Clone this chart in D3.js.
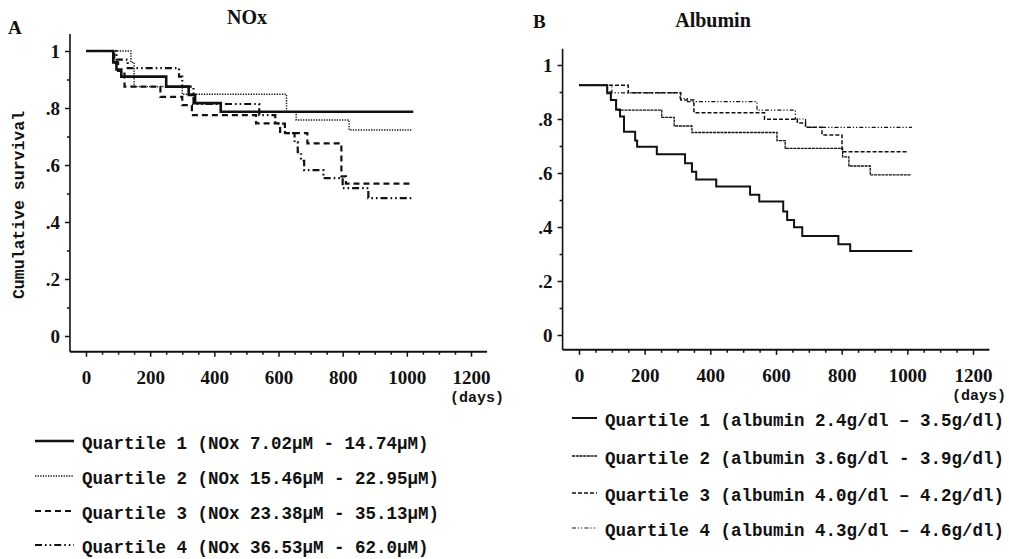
<!DOCTYPE html>
<html>
<head>
<meta charset="utf-8">
<script src="https://cdn.jsdelivr.net/npm/d3@7"></script>
<style>
  body { margin: 0; background: #fff; }
  svg text { fill: #111; }
</style>
</head>
<body>
<svg id="chart" width="1009" height="559"></svg>
<script>
// survival steps: [day, cumulative survival]
const noxQ1 = [[0,1],[85,0.96],[95,0.935],[110,0.91],[250,0.875],[320,0.846],[340,0.817],[420,0.787]];
const noxQ2 = [[0,1],[140,0.96],[150,0.875],[300,0.848],[625,0.787],[655,0.758],[820,0.723]];
const noxQ3 = [[0,1],[88,0.96],[100,0.93],[120,0.875],[232,0.839],[300,0.81],[330,0.775],[530,0.746],[605,0.712],[690,0.676],[796,0.56],[810,0.535]];
const noxQ4 = [[0,1],[95,0.97],[130,0.94],[290,0.91],[300,0.875],[335,0.814],[540,0.775],[590,0.745],[620,0.712],[650,0.68],[660,0.645],[670,0.615],[680,0.582],[740,0.554],[800,0.519],[880,0.484]];
const noxEnd = [1020, 1015, 1012, 1020];

const albQ1 = [[0,0.925],[86,0.895],[97,0.87],[113,0.835],[125,0.809],[137,0.753],[171,0.72],[177,0.697],[237,0.669],[323,0.636],[344,0.605],[357,0.576],[418,0.55],[521,0.519],[549,0.494],[622,0.457],[634,0.426],[655,0.399],[680,0.367],[790,0.336],[826,0.311]];
const albQ2 = [[0,0.925],[86,0.9],[97,0.87],[113,0.833],[252,0.806],[290,0.774],[344,0.75],[603,0.72],[628,0.691],[803,0.66],[822,0.626],[887,0.593]];
const albQ3 = [[0,0.925],[150,0.897],[310,0.87],[350,0.823],[565,0.799],[665,0.785],[690,0.769],[740,0.741],[801,0.679]];
const albQ4 = [[0,0.925],[100,0.897],[308,0.876],[330,0.864],[542,0.833],[659,0.8],[690,0.769]];
const albEnd = [1015, 1012, 1000, 1014];

const xTicks = [0, 200, 400, 600, 800, 1000, 1200];
const yTicks = [0, 0.2, 0.4, 0.6, 0.8, 1];
const yTickLabels = ["0", ".2", ".4", ".6", ".8", "1"];

const noxLegend = [
  "Quartile 1 (NOx 7.02\u03bcM - 14.74\u03bcM)",
  "Quartile 2 (NOx 15.46\u03bcM - 22.95\u03bcM)",
  "Quartile 3 (NOx 23.38\u03bcM - 35.13\u03bcM)",
  "Quartile 4 (NOx 36.53\u03bcM - 62.0\u03bcM)"
];
const albLegend = [
  "Quartile 1 (albumin 2.4g/dl \u2013 3.5g/dl)",
  "Quartile 2 (albumin 3.6g/dl - 3.9g/dl)",
  "Quartile 3 (albumin 4.0g/dl \u2013 4.2g/dl)",
  "Quartile 4 (albumin 4.3g/dl \u2013 4.6g/dl)"
];

// line styles per quartile
const noxStyles = [
  {w: 2.6, dash: null},
  {w: 1.4, dash: "1.3,1.3"},
  {w: 2.2, dash: "6,4"},
  {w: 2.2, dash: "7,3,1.6,3,1.6,3"}
];
const albStyles = [
  {w: 2.0, dash: null},
  {w: 1.3, dash: "3,0.7"},
  {w: 1.5, dash: "4,2"},
  {w: 1.2, dash: "4,2,1.2,2,1.2,2"}
];

const svg = d3.select("#chart");
const monoFont = "'Liberation Mono', 'DejaVu Sans Mono', monospace";
const serifFont = "'Liberation Serif', 'DejaVu Serif', serif";

function drawPanel(p) {
  const g = svg.append("g");
  const x = d3.scaleLinear().domain([0, 1200]).range(p.xRange);
  const y = d3.scaleLinear().domain([0, 1]).range(p.yRange);

  // axis lines
  g.append("line")
    .attr("x1", x(-50)).attr("x2", x(-50))
    .attr("y1", y(1.06)).attr("y2", y(-0.055))
    .attr("stroke", "#111").attr("stroke-width", 1.6);
  g.append("line")
    .attr("x1", x(-50)).attr("x2", x(1250))
    .attr("y1", y(-0.055)).attr("y2", y(-0.055))
    .attr("stroke", "#111").attr("stroke-width", 2);

  // y ticks
  const ya = g.append("g")
    .attr("transform", `translate(${x(-50)},0)`)
    .call(d3.axisLeft(y).tickValues(yTicks).tickSize(5).tickPadding(5)
      .tickFormat((d, i) => yTickLabels[i]));
  const ym = g.append("g")
    .attr("transform", `translate(${x(-50)},0)`)
    .call(d3.axisLeft(y).tickValues([0.1, 0.3, 0.5, 0.7, 0.9]).tickSize(3).tickFormat(""));

  // x ticks
  const xa = g.append("g")
    .attr("transform", `translate(0,${y(-0.055)})`)
    .call(d3.axisBottom(x).tickValues(xTicks).tickSize(5).tickPadding(14)
      .tickFormat(d3.format("d")));
  const xm = g.append("g")
    .attr("transform", `translate(0,${y(-0.055)})`)
    .call(d3.axisBottom(x).tickValues(d3.range(50, 1250, 50).filter(d => d % 200 !== 0))
      .tickSize(3).tickFormat(""));

  [ya, ym, xa, xm].forEach(a => {
    a.select(".domain").remove();
    a.selectAll("line").attr("stroke", "#111").attr("stroke-width", 1.5);
    a.selectAll("text")
      .attr("font-family", serifFont)
      .attr("font-size", 19)
      .attr("font-weight", "bold")
      .attr("fill", "#111");
  });
  ya.selectAll("text").attr("dy", "0.36em");

  g.append("text")
    .attr("x", x(1200) + 6).attr("y", y(-0.055) + 50)
    .attr("text-anchor", "middle")
    .attr("font-family", monoFont).attr("font-size", 15).attr("font-weight", "bold")
    .text("(days)");

  // curves
  const line = d3.line()
    .x(d => x(d[0])).y(d => y(d[1]))
    .curve(d3.curveStepAfter);
  p.series.forEach((s, i) => {
    const pts = s.concat([[p.end[i], s[s.length - 1][1]]]);
    g.append("path")
      .datum(pts)
      .attr("d", line)
      .attr("fill", "none")
      .attr("stroke", "#111")
      .attr("stroke-width", p.styles[i].w)
      .attr("stroke-dasharray", p.styles[i].dash);
  });

  // titles
  g.append("text")
    .attr("x", p.letterX).attr("y", p.letterY)
    .attr("font-family", serifFont).attr("font-size", 19).attr("font-weight", "bold")
    .text(p.letter);
  g.append("text")
    .attr("x", p.titleX).attr("y", p.titleY)
    .attr("text-anchor", "middle")
    .attr("font-family", serifFont).attr("font-size", 20).attr("font-weight", "bold")
    .text(p.title);

  // legend
  p.legend.forEach((t, i) => {
    const ly = p.legendY[i];
    g.append("line")
      .attr("x1", p.legendX[0]).attr("x2", p.legendX[1])
      .attr("y1", ly - 2).attr("y2", ly - 2)
      .attr("stroke", "#111")
      .attr("stroke-width", p.styles[i].w)
      .attr("stroke-dasharray", p.styles[i].dash);
    g.append("text")
      .attr("x", p.legendX[1] + 8).attr("y", ly)
      .attr("dy", "0.35em")
      .attr("font-family", monoFont).attr("font-size", 17.5).attr("font-weight", "bold")
      .text(t);
  });
}

drawPanel({
  xRange: [86, 471], yRange: [336, 51],
  series: [noxQ1, noxQ2, noxQ3, noxQ4], end: noxEnd, styles: noxStyles,
  letter: "A", letterX: 8, letterY: 34, title: "NOx", titleX: 247, titleY: 24,
  legend: noxLegend, legendX: [35, 74], legendY: [443, 478, 513, 547]
});
drawPanel({
  xRange: [579, 973], yRange: [335, 65],
  series: [albQ1, albQ2, albQ3, albQ4], end: albEnd, styles: albStyles,
  letter: "B", letterX: 533, letterY: 28, title: "Albumin", titleX: 713, titleY: 27,
  legend: albLegend, legendX: [572, 597], legendY: [420, 458, 495, 530]
});

// shared y label on panel A
svg.append("text")
  .attr("transform", "translate(24,205) rotate(-90)")
  .attr("text-anchor", "middle")
  .attr("font-family", monoFont).attr("font-size", 16.5).attr("font-weight", "bold")
  .text("Cumulative survival");
</script>
</body>
</html>
